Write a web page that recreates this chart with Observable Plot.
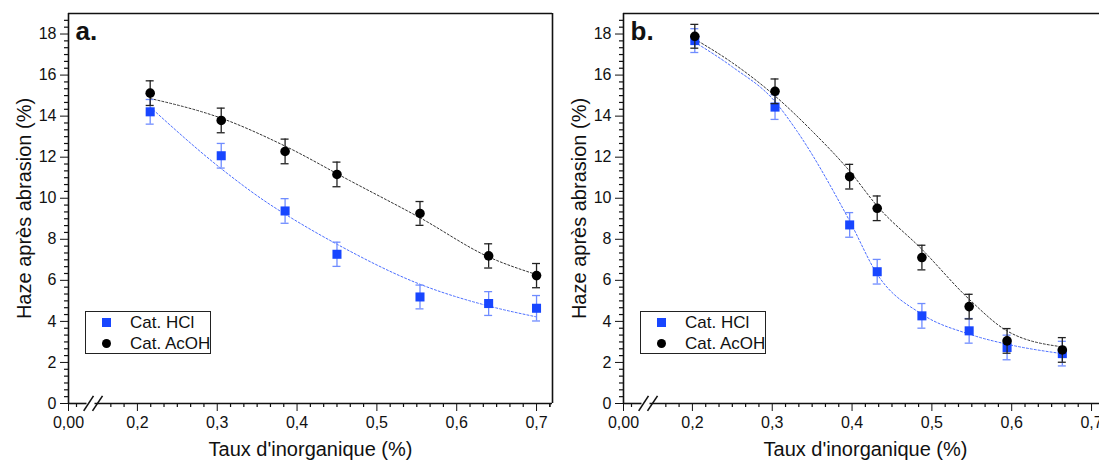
<!DOCTYPE html>
<html>
<head>
<meta charset="utf-8">
<script src="https://cdn.jsdelivr.net/npm/d3@7"></script>
<script src="https://cdn.jsdelivr.net/npm/@observablehq/plot@0.6"></script>
<style>
  html, body { margin: 0; padding: 0; background: #fff; }
  #wrap { position: relative; width: 1099px; height: 464px; overflow: hidden; background: #fff;
          font-family: "Liberation Sans", Arial, sans-serif; }
  .panel { position: absolute; top: 0; width: 560px; height: 464px; }
  .panel svg { max-width: none !important; }
  .legend { position: absolute; left: 85px; top: 311px; width: 124px; height: 41px;
            border: 1px solid #222; background: #fff; }
  .legend .row { position: absolute; left: 0; height: 20px; width: 124px; }
  .legend .mk { position: absolute; }
  .legend .sq { left: 16px; width: 9px; height: 9px; background: #1846ff; }
  .legend .ci { left: 16px; width: 9px; height: 9px; border-radius: 50%; background: #000; }
  .legend .tx { position: absolute; left: 44px; font-size: 17px; color: #111; line-height: 17px; white-space: nowrap; }
</style>
</head>
<body>
<div id="wrap"></div>
<script>
// ---------- data ----------
// Panel a
const xA        = [0.216, 0.305, 0.385, 0.450, 0.554, 0.640, 0.700];
const hclA      = [14.21, 12.07, 9.38, 7.27, 5.19, 4.87, 4.64];
const hclErrA   = [0.60, 0.60, 0.60, 0.59, 0.58, 0.58, 0.62];
const acohA     = [15.12, 13.79, 12.28, 11.16, 9.26, 7.19, 6.23];
const acohErrA  = [0.60, 0.60, 0.60, 0.60, 0.58, 0.59, 0.59];
const fitHclXA  = [0.216, 0.305, 0.367, 0.384, 0.450, 0.554, 0.640, 0.700];
const fitHclYA  = [14.44, 11.44, 9.67, 9.25, 7.76, 5.81, 4.75, 4.22];
const fitAcohXA = [0.216, 0.305, 0.384, 0.467, 0.554, 0.640, 0.700];
const fitAcohYA = [14.86, 13.90, 12.56, 10.84, 9.05, 7.14, 6.28];

// Panel b
const xB        = [0.203, 0.3035, 0.397, 0.4315, 0.4875, 0.5467, 0.5942, 0.6634];
const hclB      = [17.68, 14.44, 8.70, 6.42, 4.27, 3.54, 2.73, 2.43];
const hclErrB   = [0.58, 0.60, 0.60, 0.60, 0.60, 0.60, 0.60, 0.60];
const acohB     = [17.89, 15.21, 11.05, 9.51, 7.11, 4.72, 3.05, 2.61];
const acohErrB  = [0.58, 0.60, 0.60, 0.60, 0.60, 0.60, 0.60, 0.60];
const fitHclXB  = [0.203, 0.250, 0.303, 0.331, 0.397, 0.4315, 0.4875, 0.5467, 0.594, 0.663];
const fitHclYB  = [17.60, 16.40, 14.73, 13.27, 8.89, 6.30, 4.35, 3.38, 2.89, 2.43];
const fitAcohXB = [0.203, 0.250, 0.303, 0.350, 0.397, 0.4315, 0.4875, 0.5467, 0.594, 0.663];
const fitAcohYB = [17.75, 16.60, 15.00, 13.27, 11.32, 9.62, 7.51, 5.08, 3.54, 2.76];

// Axes
const xTicks      = [0, 0.2, 0.3, 0.4, 0.5, 0.6, 0.7];
const xTickLabels = ["0,00", "0,2", "0,3", "0,4", "0,5", "0,6", "0,7"];
const yTicks      = [0, 2, 4, 6, 8, 10, 12, 14, 16, 18];
const yTickLabels = ["0", "2", "4", "6", "8", "10", "12", "14", "16", "18"];
const seriesNames = ["Cat. HCl", "Cat. AcOH"];
const xTitle = "Taux d'inorganique (%)";
const yTitle = "Haze après abrasion (%)";
const panelLabels = ["a.", "b."];

// ---------- drawing ----------
const BLUE = "#1846ff", BLUE_BAR = "#6f8cff", BLUE_FIT = "#4a6dff";
const xDomain = [0, 0.02, 0.15, 0.72];     // broken axis: 0–0.02 // 0.15–0.72
const xRange  = [68, 84, 97, 552];
const yDomain = [0, 19];
const yRange  = [403, 13];

// minor ticks
const xMinor = [0.01, 0.1667, 0.1833];
for (let m = 0.2; m < 0.72; m += 0.1) for (let k = 1; k < 6; k++) { const v = m + k / 60; if (v < 0.7199) xMinor.push(v); }
xMinor.push(0.7167);
const yMinor = [];
for (let k = 1; k < 57; k++) if (k % 6 !== 0) yMinor.push(k / 3);

function rows(xs, ys, es) { return xs.map((x, i) => ({x, y: ys[i], e: es ? es[i] : 0})); }

function panel(label, xs, hcl, hclErr, acoh, acohErr, fhx, fhy, fax, fay) {
  const H = rows(xs, hcl, hclErr), A = rows(xs, acoh, acohErr);
  const FH = rows(fhx, fhy), FA = rows(fax, fay);
  const cap = 0.005;
  const ruleTick = 4 / 20.55;
  const breakSlashes = [
    {x1: 0.019, y1: -0.36, x2: 0.11, y2: 0.37},
    {x1: 0.10, y1: -0.36, x2: 0.1563, y2: 0.37}
  ];
  return Plot.plot({
    width: 560, height: 464,
    marginLeft: 68, marginRight: 8, marginTop: 13, marginBottom: 61,
    style: {fontFamily: "'Liberation Sans', Arial, sans-serif", fontSize: "16px", background: "transparent", overflow: "visible", color: "#111"},
    x: {type: "linear", domain: xDomain, range: xRange, ticks: xTicks,
        tickFormat: d => xTickLabels[xTicks.indexOf(d)], tickSize: 8, tickPadding: 5, label: null},
    y: {type: "linear", domain: yDomain, range: yRange, ticks: yTicks,
        tickFormat: d => yTickLabels[yTicks.indexOf(d)], tickSize: 8, tickPadding: 4, label: null},
    marks: [
      // frame
      Plot.ruleX([0, 0.72], {stroke: "#111", strokeWidth: 1.6}),
      Plot.ruleY([19], {stroke: "#111", strokeWidth: 1.6}),
      Plot.ruleY([0], {x1: 0, x2: 0.045, stroke: "#111", strokeWidth: 1.6}),
      Plot.ruleY([0], {x1: 0.125, x2: 0.72, stroke: "#111", strokeWidth: 1.6}),
      Plot.link(breakSlashes, {x1: "x1", y1: "y1", x2: "x2", y2: "y2", stroke: "#111", strokeWidth: 1.6}),
      // minor ticks
      Plot.ruleX(xMinor, {x: d => d, y1: 0, y2: -ruleTick, stroke: "#111", strokeWidth: 1.2}),
      Plot.ruleY(yMinor, {y: d => d, x1: 0, x2: -0.005, stroke: "#111", strokeWidth: 1.2}),
      // fits
      Plot.line(FH, {x: "x", y: "y", curve: "monotone-x", stroke: BLUE_FIT, strokeWidth: 1, strokeDasharray: "2,2"}),
      Plot.line(FA, {x: "x", y: "y", curve: "monotone-x", stroke: "#333", strokeWidth: 1, strokeDasharray: "2,2"}),
      // error bars HCl
      Plot.ruleX(H, {x: "x", y1: d => d.y - d.e, y2: d => d.y + d.e, stroke: BLUE_BAR, strokeWidth: 1.3}),
      Plot.ruleY(H, {y: d => d.y - d.e, x1: d => d.x - cap, x2: d => d.x + cap, stroke: BLUE_BAR, strokeWidth: 1.3}),
      Plot.ruleY(H, {y: d => d.y + d.e, x1: d => d.x - cap, x2: d => d.x + cap, stroke: BLUE_BAR, strokeWidth: 1.3}),
      Plot.dot(H, {x: "x", y: "y", symbol: "square", r: 5.1, fill: BLUE, stroke: "none"}),
      // error bars AcOH
      Plot.ruleX(A, {x: "x", y1: d => d.y - d.e, y2: d => d.y + d.e, stroke: "#222", strokeWidth: 1.3}),
      Plot.ruleY(A, {y: d => d.y - d.e, x1: d => d.x - cap, x2: d => d.x + cap, stroke: "#222", strokeWidth: 1.3}),
      Plot.ruleY(A, {y: d => d.y + d.e, x1: d => d.x - cap, x2: d => d.x + cap, stroke: "#222", strokeWidth: 1.3}),
      Plot.dot(A, {x: "x", y: "y", r: 4.8, fill: "#000", stroke: "none"}),
      // titles
      Plot.text([yTitle], {frameAnchor: "left", dx: -44, rotate: -90, fontSize: 20, fill: "#111", lineAnchor: "middle", textAnchor: "middle"}),
      Plot.text([xTitle], {frameAnchor: "bottom", dy: 46, fontSize: 20, fill: "#111", lineAnchor: "middle", textAnchor: "middle"}),
      Plot.text([label], {frameAnchor: "top-left", dx: 7, dy: 8, fontSize: 26, fontWeight: "bold", fill: "#111", lineAnchor: "top", textAnchor: "start"})
    ]
  });
}

function legend() {
  const lg = document.createElement("div");
  lg.className = "legend";
  const rowsSpec = [{cls: "sq", top: 6, name: seriesNames[0]}, {cls: "ci", top: 26.5, name: seriesNames[1]}];
  for (const r of rowsSpec) {
    const row = document.createElement("div");
    row.className = "row"; row.style.top = r.top + "px";
    const mk = document.createElement("div"); mk.className = "mk " + r.cls; mk.style.top = "0px";
    const tx = document.createElement("div"); tx.className = "tx"; tx.textContent = r.name; tx.style.top = "-4px";
    row.appendChild(mk); row.appendChild(tx); lg.appendChild(row);
  }
  return lg;
}

const wrap = document.getElementById("wrap");
const specs = [
  {left: 0,   label: panelLabels[0], args: [xA, hclA, hclErrA, acohA, acohErrA, fitHclXA, fitHclYA, fitAcohXA, fitAcohYA]},
  {left: 555, label: panelLabels[1], args: [xB, hclB, hclErrB, acohB, acohErrB, fitHclXB, fitHclYB, fitAcohXB, fitAcohYB]}
];
for (const s of specs) {
  const div = document.createElement("div");
  div.className = "panel"; div.style.left = s.left + "px";
  div.appendChild(panel(s.label, ...s.args));
  div.appendChild(legend());
  wrap.appendChild(div);
}
</script>
</body>
</html>
